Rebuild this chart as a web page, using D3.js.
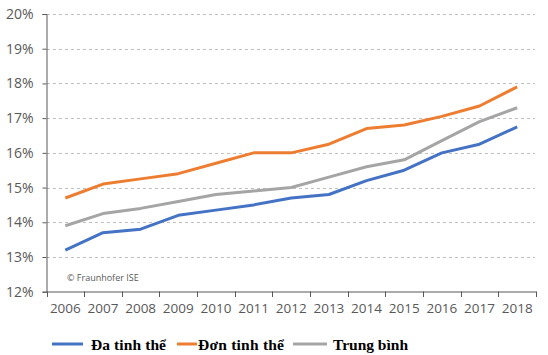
<!DOCTYPE html>
<html><head><meta charset="utf-8">
<script src="https://cdn.jsdelivr.net/npm/d3@7"></script>
<style>body{margin:0;background:#fff}svg{display:block}</style>
</head><body>
<svg id="c" width="548" height="355"></svg>
<script>
const years = ["2006","2007","2008","2009","2010","2011","2012","2013","2014","2015","2016","2017","2018"];
const daTinhThe  = [13.2,13.7,13.8,14.2,14.35,14.5,14.7,14.8,15.2,15.5,16.0,16.25,16.75];
const donTinhThe = [14.7,15.1,15.25,15.4,15.7,16.0,16.0,16.25,16.7,16.8,17.05,17.35,17.9];
const trungBinh  = [13.9,14.25,14.4,14.6,14.8,14.9,15.0,15.3,15.6,15.8,16.35,16.9,17.3];
const yTicks = [12,13,14,15,16,17,18,19,20];
const seriesNames = ["Đa tinh thể","Đơn tinh thể","Trung bình"];
const colors = ["#4472C4","#ED7D31","#A5A5A5"];

const svg = d3.select("#c");
const x = d3.scaleBand().domain(years).range([46.5,536]);
const y = d3.scaleLinear().domain([12,20]).range([291.7,14]);
const sans = "'Open Sans', sans-serif";

// gridlines
svg.append("g").selectAll("line").data(yTicks.filter(d=>d>12)).join("line")
  .attr("x1",47).attr("x2",535).attr("y1",d=>Math.round(y(d))+0.5).attr("y2",d=>Math.round(y(d))+0.5)
  .attr("stroke","#C0C0C0").attr("stroke-dasharray","3,3").attr("stroke-width",1);

// y axis
const ya = svg.append("g").attr("transform","translate(46.5,0)")
  .call(d3.axisLeft(y).tickValues(yTicks).tickFormat(d=>d+"%").tickSize(4).tickPadding(9));
ya.select(".domain").attr("stroke","#595959");
ya.selectAll(".tick line").attr("stroke","#595959");
ya.selectAll("text").attr("font-family",sans).attr("font-size",14).attr("fill","#595959");

// x axis
const xa = svg.append("g").attr("transform","translate(0,291.5)")
  .call(d3.axisBottom(x).tickSize(0).tickPadding(12));
xa.select(".domain").attr("stroke","#595959");
xa.selectAll("text").attr("font-family",sans).attr("font-size",13.5).attr("fill","#595959");
svg.append("g").selectAll("line").data(years.concat(["end"])).join("line")
  .attr("x1",(d,i)=>Math.round(46.5 + i*x.step())+0.5).attr("x2",(d,i)=>Math.round(46.5 + i*x.step())+0.5)
  .attr("y1",291.5).attr("y2",297).attr("stroke","#595959");

// lines
const line = d3.line().x((d,i)=>x(years[i])+x.bandwidth()/2).y(d=>y(d));
[daTinhThe,donTinhThe,trungBinh].forEach((s,k)=>{
  svg.append("path").datum(s).attr("d",line).attr("fill","none")
    .attr("stroke",colors[k]).attr("stroke-width",3).attr("stroke-linejoin","round");
});

// copyright
svg.append("text").attr("x",67).attr("y",281).text("© Fraunhofer ISE")
  .attr("font-family",sans).attr("font-size",9).attr("fill","#595959");

// legend
const leg = [{x1:52,x2:83,tx:91,w:75},{x1:177,x2:197,tx:198,w:86},{x1:293,x2:327,tx:333,w:75}];
leg.forEach((l,k)=>{
  svg.append("line").attr("x1",l.x1).attr("x2",l.x2).attr("y1",344).attr("y2",344)
    .attr("stroke",colors[k]).attr("stroke-width",3);
  svg.append("text").attr("x",l.tx).attr("y",349.5).text(seriesNames[k])
    .attr("font-family","'Liberation Serif', 'Times New Roman', serif").attr("font-weight","bold")
    .attr("font-size",15.5).attr("fill","#000")
    .attr("textLength",l.w).attr("lengthAdjust","spacing");
});
</script>
</body></html>
